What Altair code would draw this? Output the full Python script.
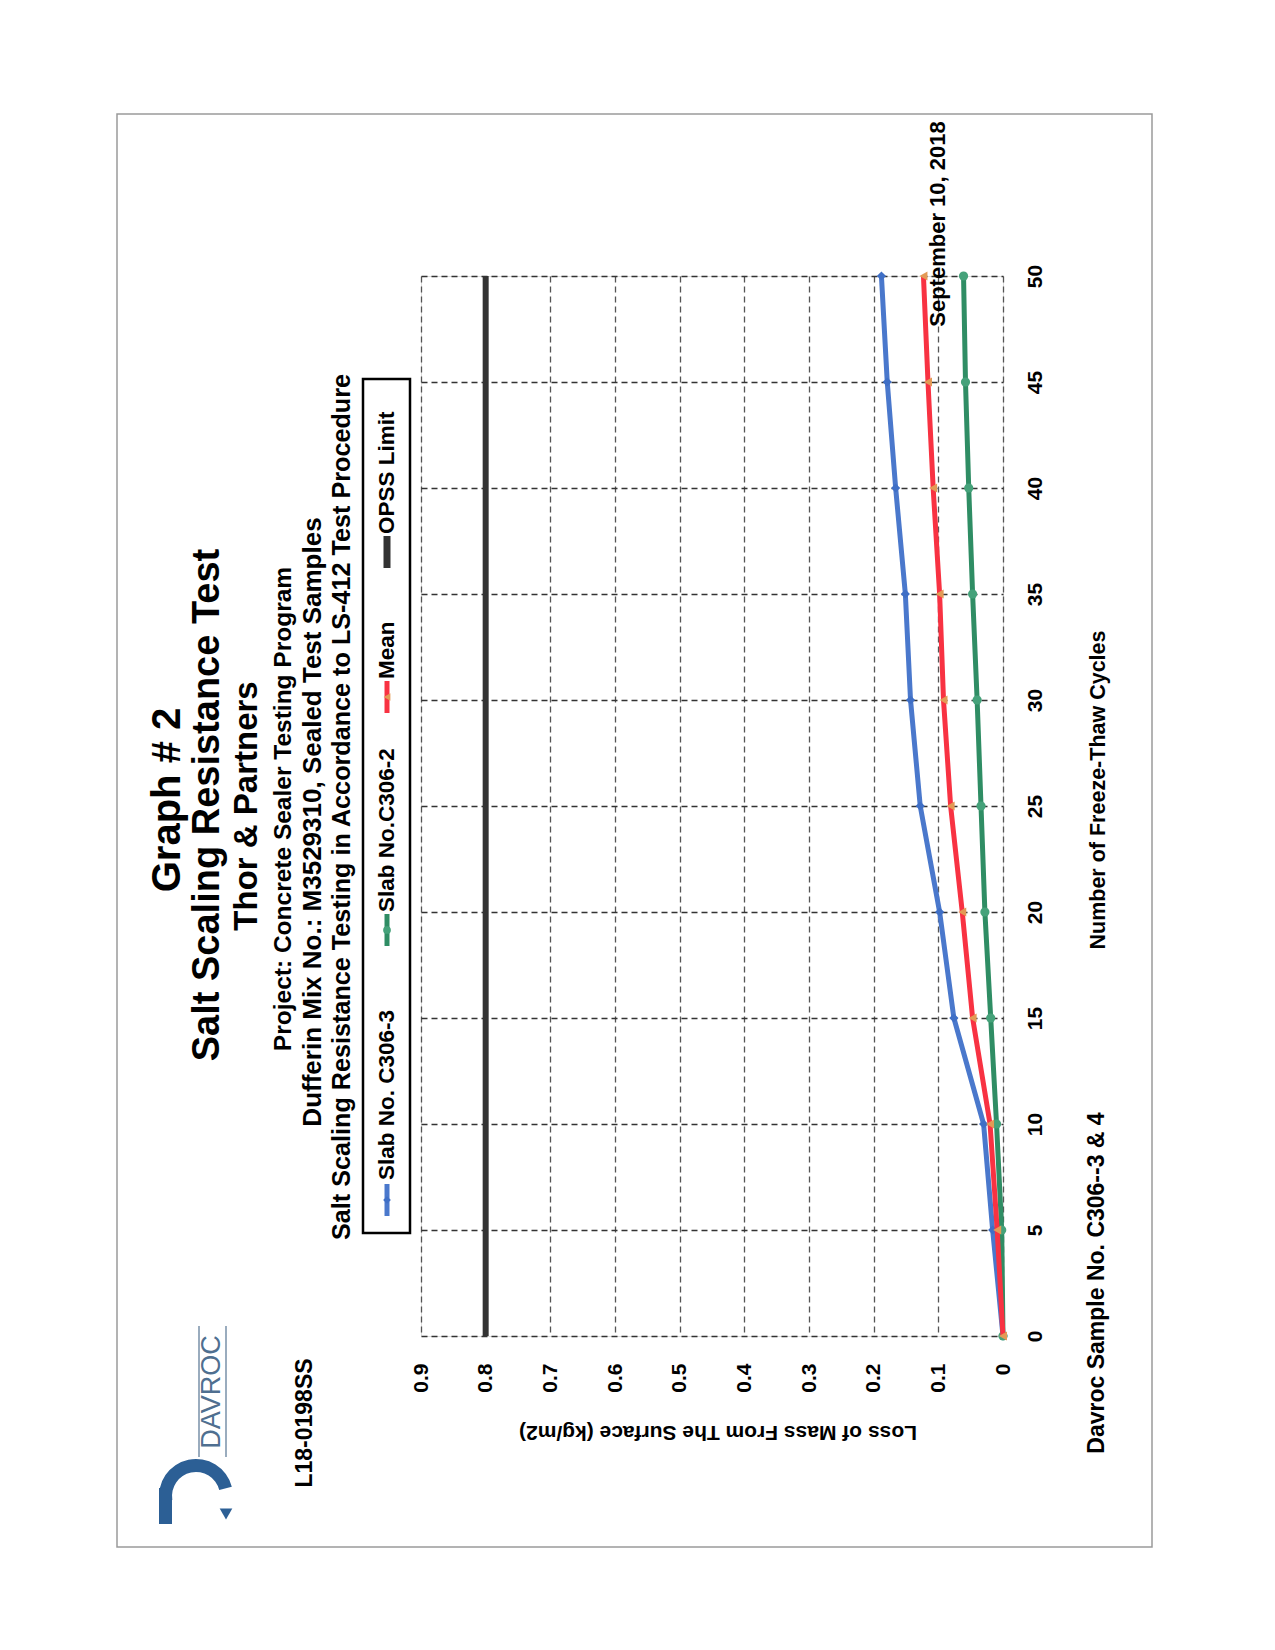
import altair as alt
import pandas as pd

# ---------------- data ----------------
cycles = [0, 5, 10, 15, 20, 25, 30, 35, 40, 45, 50]
slab_c306_3 = [0.0, 0.016, 0.030, 0.076, 0.098, 0.128, 0.143, 0.151, 0.166, 0.179, 0.188]
slab_c306_2 = [0.0, 0.002, 0.010, 0.019, 0.028, 0.034, 0.040, 0.047, 0.053, 0.058, 0.061]
mean_loss = [0.0, 0.009, 0.020, 0.047, 0.063, 0.081, 0.092, 0.098, 0.108, 0.116, 0.123]
opss_limit = [0.8, 0.8, 0.8, 0.8, 0.8, 0.8, 0.8, 0.8, 0.8, 0.8, 0.8]

series_names = ["Slab No. C306-3", "Slab No.C306-2", "Mean", "OPSS Limit"]
loss_ticks = [0, 0.1, 0.2, 0.3, 0.4, 0.5, 0.6, 0.7, 0.8, 0.9]
cycle_ticks = [0, 5, 10, 15, 20, 25, 30, 35, 40, 45, 50]

title_lines = ["Graph # 2", "Salt Scaling  Resistance Test", "Thor & Partners"]
sub_lines = [
    "Project: Concrete Sealer Testing Program",
    "Dufferin Mix No.:  M3529310, Sealed Test Samples",
    "Salt Scaling Resistance Testing in Accordance to LS-412 Test Procedure",
]
report_no = "L18-0198SS"
report_date = "September 10, 2018"
x_title = "Number of Freeze-Thaw  Cycles"
y_title = "Loss of Mass From The Surface (kg/m2)"
sample_note = "Davroc Sample No. C306--3 & 4"
brand = "DAVROC"

# ---------------- layout ----------------
OX, OY = 421, 276      # page position of the plot area's top-left corner
W, H = 582, 1060
ARIAL = "Liberation Sans"

line_colors = {"Slab No. C306-3": "#4a78cc", "Slab No.C306-2": "#2f8d64", "Mean": "#f83242", "OPSS Limit": "#333333"}
marker_colors = {"Slab No. C306-3": "#3f6fc6", "Slab No.C306-2": "#45a27a", "Mean": "#e39a55"}
marker_shapes = {"Slab No. C306-3": "diamond", "Slab No.C306-2": "circle", "Mean": "triangle-left"}


def vx(px):
    return px - OX


def vy(py):
    return py - OY


def one():
    return alt.Data(values=[{"t": 0}])


def text_layer(s, px, py, size, font=ARIAL, weight="bold", angle=270, align="center", color="black"):
    return alt.Chart(alt.Data(values=[{"t": s}])).mark_text(
        angle=angle, font=font, fontSize=size, fontWeight=weight,
        align=align, baseline="middle", color=color
    ).encode(text="t:N", x=alt.value(vx(px)), y=alt.value(vy(py)))


x_enc = alt.X(
    "loss:Q",
    scale=alt.Scale(domain=[0, 0.9], reverse=True, nice=False, zero=False),
    axis=alt.Axis(
        values=loss_ticks, orient="bottom", format="~g", title=None,
        labelAngle=270, labelAlign="right", labelBaseline="middle",
        labelPadding=27, tickSize=0, domain=False, labelFlush=False, labelOverlap=False,
        labelFont=ARIAL, labelFontSize=21, labelFontWeight="bold", labelColor="black",
        grid=True, gridDash=[6, 4], gridColor="#555555", gridWidth=1.3,
    ),
)
y_enc = alt.Y(
    "cycles:Q",
    scale=alt.Scale(domain=[0, 50], nice=False),
    axis=alt.Axis(
        values=cycle_ticks, orient="right", title=None,
        labelAngle=270, labelAlign="center", labelBaseline="middle",
        labelPadding=32, tickSize=0, domain=False, labelFlush=False, labelOverlap=False,
        labelFont=ARIAL, labelFontSize=21, labelFontWeight="bold", labelColor="black",
        grid=True, gridDash=[6, 4], gridColor="#333333", gridWidth=1.3,
    ),
)

layers = []

# series (drawn in Excel order: blue, green, red)
series_data = [
    ("Slab No. C306-3", slab_c306_3),
    ("Slab No.C306-2", slab_c306_2),
    ("Mean", mean_loss),
]
first = True
for name, vals in series_data:
    df = pd.DataFrame({"cycles": cycles, "loss": vals, "series": name})
    base = alt.Chart(df)
    line = base.mark_line(strokeWidth=5, color=line_colors[name]).encode(
        x=x_enc if first else alt.X("loss:Q"), y=y_enc if first else alt.Y("cycles:Q"),
        order="cycles:Q")
    pts = base.mark_point(filled=True, size=85, opacity=1, shape=marker_shapes[name],
                          color=marker_colors[name]).encode(x="loss:Q", y="cycles:Q")
    layers += [line, pts]
    first = False

opss_df = pd.DataFrame({"cycles": cycles, "loss": opss_limit})
layers.append(alt.Chart(opss_df).mark_line(strokeWidth=6, color="#333333").encode(
    x="loss:Q", y="cycles:Q", order="cycles:Q"))

# outer page frame
layers.append(alt.Chart(one()).mark_rect(fillOpacity=0, stroke="#9a9a9a", strokeWidth=1.5).encode(
    x=alt.value(vx(117)), x2=alt.value(vx(1152)), y=alt.value(vy(114)), y2=alt.value(vy(1547))))

# titles
layers.append(text_layer(title_lines[0], 168, 800, 40))
layers.append(text_layer(title_lines[1], 208, 805, 38))
layers.append(text_layer(title_lines[2], 247, 806, 33))
layers.append(text_layer(sub_lines[0], 284, 809, 24.5))
layers.append(text_layer(sub_lines[1], 313, 822, 26))
layers.append(text_layer(sub_lines[2], 342, 807, 25.2))

layers.append(text_layer(report_no, 305, 1423, 23))
layers.append(text_layer(report_date, 938, 224, 22))
layers.append(text_layer(x_title, 1099, 790, 21.5))
layers.append(text_layer(sample_note, 1097, 1283, 23))
layers.append(text_layer(y_title, 718, 1432, 21, angle=180))

# brand
layers.append(text_layer(brand, 212, 1392, 27, weight="normal", color="#4f6f90"))
for bx in (199, 226):
    layers.append(alt.Chart(one()).mark_rule(color="#7990a8", strokeWidth=1.5).encode(
        x=alt.value(vx(bx)), y=alt.value(vy(1326)), y2=alt.value(vy(1457))))
layers.append(alt.Chart(one()).mark_arc(radius=37, radius2=24, theta=4.55, theta2=7.6, color="#2c5f95").encode(
    x=alt.value(vx(196)), y=alt.value(vy(1496))))
layers.append(alt.Chart(one()).mark_rect(color="#2c5f95").encode(
    x=alt.value(vx(159)), x2=alt.value(vx(172)), y=alt.value(vy(1488)), y2=alt.value(vy(1524))))
layers.append(alt.Chart(one()).mark_point(shape="triangle-down", filled=True, size=160, opacity=1, color="#2c5f95").encode(
    x=alt.value(vx(226)), y=alt.value(vy(1514))))

# manual legend (rotated)
layers.append(alt.Chart(one()).mark_rect(fill="white", stroke="black", strokeWidth=2.5).encode(
    x=alt.value(vx(363)), x2=alt.value(vx(410)), y=alt.value(vy(379)), y2=alt.value(vy(1233))))
legend_pos = {  # name: (segment centre y, text start y)
    "Slab No. C306-3": (1200, 1180),
    "Slab No.C306-2": (930, 912),
    "Mean": (697, 679),
    "OPSS Limit": (552, 534),
}
LX = 387
for name in series_names:
    cy, ty = legend_pos[name]
    layers.append(alt.Chart(one()).mark_rule(color=line_colors[name], strokeWidth=5 if name != "OPSS Limit" else 7).encode(
        x=alt.value(vx(LX)), y=alt.value(vy(cy - 16)), y2=alt.value(vy(cy + 16))))
    if name in marker_shapes:
        layers.append(alt.Chart(one()).mark_point(filled=True, size=60, opacity=1, shape=marker_shapes[name],
                                                  color=marker_colors[name]).encode(
            x=alt.value(vx(LX)), y=alt.value(vy(cy))))
    layers.append(text_layer(name, LX, ty, 22.5, align="left"))

chart = alt.layer(*layers).properties(
    width=W, height=H,
    autosize=alt.AutoSizeParams(type="none"),
    padding={"left": OX - 8, "top": OY - 8, "right": 1259 - (OX - 8) - W, "bottom": 1600 - (OY - 8) - H},
).configure_view(stroke="black", strokeWidth=3).configure(background="white")

chart.save("out.html", embed_options={"renderer": "svg", "actions": False})
